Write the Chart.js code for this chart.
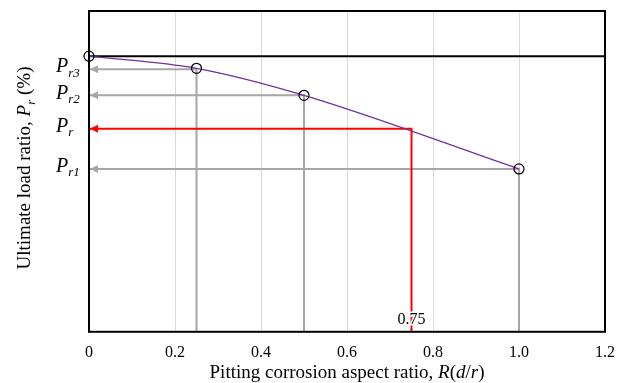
<!DOCTYPE html>
<html>
<head>
<meta charset="utf-8">
<script src="https://cdn.jsdelivr.net/npm/chart.js@4/dist/chart.umd.min.js"></script>
<style>
  html, body { margin: 0; padding: 0; background: #ffffff; }
  #wrap { width: 624px; height: 383px; }
</style>
</head>
<body>
<div id="wrap"><canvas id="loadChart" width="624" height="383"></canvas></div>
<script>
// =============================================================================
// DATA (y is a relative load ratio, 1.0 = black line)
// =============================================================================

// marked points (open circles)
const aspectRatios = [0, 0.25, 0.5, 1.0];
const loadRatios = [1.0, 0.956, 0.858, 0.591];

// purple fitted curve
const curveX = [0, 0.25, 0.5, 1.0];
const curveY = [1.0, 0.956, 0.858, 0.591];

// guide lines: label, aspect ratio, load ratio
const guideLabels = ['r3', 'r2', 'r1'];
const guideX = [0.25, 0.5, 1.0];
const guideY = [0.953, 0.858, 0.591];

// the red read-off at R = 0.75
const targetX = 0.75;
const targetY = 0.737;
const targetLabel = 'r';

// the reference (intact) level
const refLevel = 1.0;

// x axis ticks
const xTicks = [0, 0.2, 0.4, 0.6, 0.8, 1.0, 1.2];

const GRAY = '#A6A6A6';
const RED = '#FF0000';
const SERIF = "'Liberation Serif', 'Times New Roman', serif";

// =============================================================================
// DATASETS
// =============================================================================

let datasets = [];

// open circle markers on top
datasets.push({
    type: 'scatter',
    data: aspectRatios.map((x, i) => ({ x: x, y: loadRatios[i] })),
    pointRadius: 5,
    pointBorderWidth: 1.2,
    pointBackgroundColor: 'rgba(0,0,0,0)',
    pointBorderColor: '#000000',
    showLine: false,
    order: 0,
    clip: false
});

// purple curve
datasets.push({
    type: 'line',
    data: curveX.map((x, i) => ({ x: x, y: curveY[i] })),
    borderColor: '#7030A0',
    borderWidth: 1.2,
    pointRadius: 0,
    cubicInterpolationMode: 'monotone',
    order: 1
});

// red guide
datasets.push({
    type: 'line',
    data: [{ x: 0, y: targetY }, { x: targetX, y: targetY }, { x: targetX, y: 0 }],
    borderColor: RED,
    borderWidth: 2,
    pointRadius: 0,
    tension: 0,
    order: 2
});

// gray guides
guideX.forEach((gx, i) => {
    datasets.push({
        type: 'line',
        data: [{ x: 0, y: guideY[i] }, { x: gx, y: guideY[i] }, { x: gx, y: 0 }],
        borderColor: GRAY,
        borderWidth: 2,
        pointRadius: 0,
        tension: 0,
        order: 3
    });
});

// black reference line
datasets.push({
    type: 'line',
    data: [{ x: 0, y: refLevel }, { x: 1.2, y: refLevel }],
    borderColor: '#000000',
    borderWidth: 2,
    pointRadius: 0,
    order: 4
});

// =============================================================================
// PLUGINS
// =============================================================================

// draw a run of text pieces, each with its own font / offset
function drawPieces(ctx, pieces, x, y) {
    let cx = x;
    pieces.forEach(p => {
        ctx.font = p.font;
        ctx.fillText(p.text, cx, y + (p.dy || 0));
        cx += ctx.measureText(p.text).width;
    });
}

function piecesWidth(ctx, pieces) {
    let w = 0;
    pieces.forEach(p => {
        ctx.font = p.font;
        w += ctx.measureText(p.text).width;
    });
    return w;
}

const decorPlugin = {
    id: 'decor',
    afterDatasetsDraw(chart) {
        const ctx = chart.ctx;
        const area = chart.chartArea;
        const xs = chart.scales.x;
        const ys = chart.scales.y;

        ctx.save();

        // arrow heads pointing at the y axis
        function arrow(y, color) {
            const tip = area.left + 1;
            ctx.fillStyle = color;
            ctx.beginPath();
            ctx.moveTo(tip, y);
            ctx.lineTo(tip + 8, y - 4);
            ctx.lineTo(tip + 8, y + 4);
            ctx.closePath();
            ctx.fill();
        }
        guideY.forEach(v => arrow(ys.getPixelForValue(v), GRAY));
        arrow(ys.getPixelForValue(targetY), RED);

        // frame
        ctx.strokeStyle = '#000000';
        ctx.lineWidth = 2;
        ctx.strokeRect(area.left, area.top, area.right - area.left, area.bottom - area.top);

        // "0.75" label over the red line
        ctx.font = '16px ' + SERIF;
        ctx.textAlign = 'center';
        ctx.textBaseline = 'alphabetic';
        ctx.lineWidth = 3;
        ctx.strokeStyle = '#ffffff';
        const lx = xs.getPixelForValue(targetX);
        ctx.strokeText('0.75', lx, area.bottom - 8);
        ctx.fillStyle = '#000000';
        ctx.fillText('0.75', lx, area.bottom - 8);

        // P labels on the y axis
        ctx.textAlign = 'left';
        ctx.textBaseline = 'middle';
        ctx.fillStyle = '#000000';
        const pFont = 'italic 20px ' + SERIF;
        const subFont = 'italic 13px ' + SERIF;
        guideLabels.forEach((lab, i) => {
            const py = ys.getPixelForValue(guideY[i]) - 2;
            drawPieces(ctx, [
                { text: 'P', font: pFont },
                { text: lab, font: subFont, dy: 6 }
            ], 56, py);
        });
        drawPieces(ctx, [
            { text: 'P', font: pFont },
            { text: targetLabel, font: subFont, dy: 6 }
        ], 56, ys.getPixelForValue(targetY) - 2);

        // x title
        const up = '19px ' + SERIF;
        const it = 'italic 19px ' + SERIF;
        const xTitle = [
            { text: 'Pitting corrosion aspect ratio, ', font: up },
            { text: 'R', font: it },
            { text: '(', font: up },
            { text: 'd', font: it },
            { text: '/', font: up },
            { text: 'r', font: it },
            { text: ')', font: up }
        ];
        ctx.textBaseline = 'alphabetic';
        const xw = piecesWidth(ctx, xTitle);
        drawPieces(ctx, xTitle, 347 - xw / 2, 378);

        // y title, rotated
        const yTitle = [
            { text: 'Ultimate load ratio, ', font: up },
            { text: 'P', font: it },
            { text: 'r', font: 'italic 13px ' + SERIF, dy: 5 },
            { text: ' (%)', font: up }
        ];
        const yw = piecesWidth(ctx, yTitle);
        ctx.translate(30, 168);
        ctx.rotate(-Math.PI / 2);
        drawPieces(ctx, yTitle, -yw / 2, 0);

        ctx.restore();
    }
};

// =============================================================================
// CHART
// =============================================================================

function createChart() {
    let ctx = document.getElementById('loadChart').getContext('2d');
    new Chart(ctx, {
        data: { datasets: datasets },
        options: {
            responsive: false,
            animation: false,
            layout: { padding: { left: 89, right: 19, top: 11, bottom: 10 } },
            plugins: {
                legend: { display: false },
                tooltip: { enabled: false }
            },
            scales: {
                x: {
                    type: 'linear',
                    min: 0,
                    max: 1.2,
                    afterBuildTicks: axis => { axis.ticks = xTicks.map(v => ({ value: v })); },
                    afterFit: axis => { axis.paddingLeft = 0; axis.paddingRight = 0; },
                    ticks: {
                        padding: 11,
                        color: '#000000',
                        font: { family: SERIF, size: 16 },
                        callback: v => (v === 0 ? '0' : v.toFixed(1))
                    },
                    grid: { color: '#D9D9D9', lineWidth: 1, drawTicks: false },
                    border: { display: false }
                },
                y: {
                    type: 'linear',
                    display: false,
                    min: 0,
                    max: 1.164
                }
            }
        },
        plugins: [decorPlugin]
    });
}

window.addEventListener('DOMContentLoaded', createChart);
</script>
</body>
</html>
